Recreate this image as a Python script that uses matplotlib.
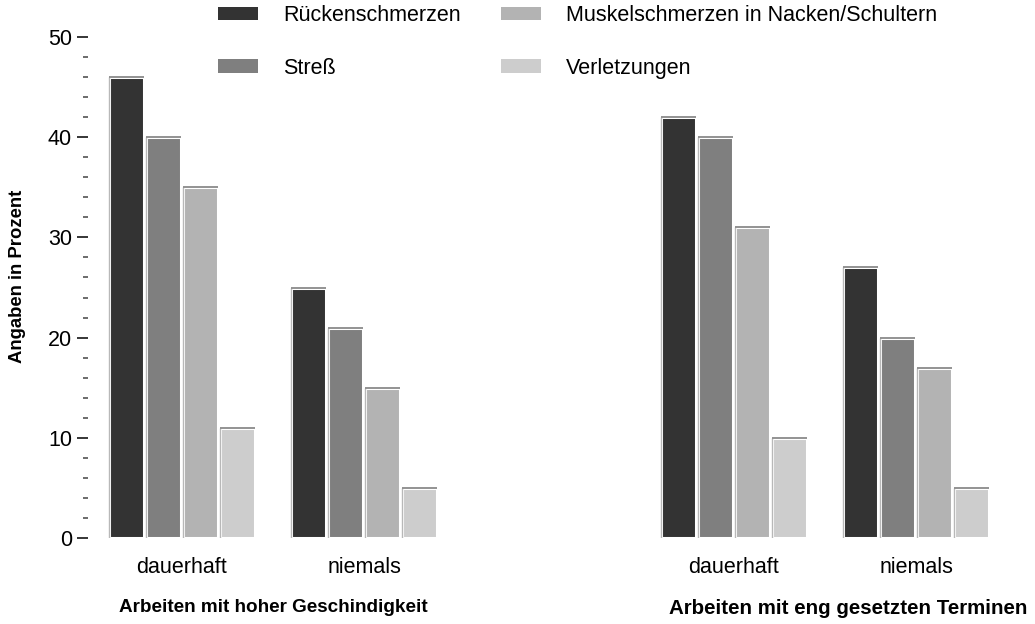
import matplotlib
matplotlib.use("Agg")
import matplotlib.pyplot as plt
import numpy as np
from matplotlib.patches import Patch

plt.rcParams['font.family'] = ['Liberation Sans', 'DejaVu Sans']

groups = ["dauerhaft", "niemals"]
series = ["Rückenschmerzen", "Streß", "Muskelschmerzen in Nacken/Schultern", "Verletzungen"]
colors = ["#333333", "#7f7f7f", "#b3b3b3", "#cdcdcd"]
panel_titles = ["Arbeiten mit hoher Geschindigkeit", "Arbeiten mit eng gesetzten Terminen"]
# values[series] -> [dauerhaft, niemals]
values_speed = [[46, 25], [40, 21], [35, 15], [11, 5]]
values_deadlines = [[42, 27], [40, 20], [31, 17], [10, 5]]
panels = [values_speed, values_deadlines]
yticks_major = [0, 10, 20, 30, 40, 50]

W, H = 1035, 624
fig = plt.figure(figsize=(W / 100, H / 100), dpi=100)

step = 0.2033
bw = 0.192
x = np.arange(len(groups))

ax_lefts = [88, 640]
title_cx = [273, 848]
title_fs = [13.6, 14.8]
for p, vals in enumerate(panels):
    ax = fig.add_axes([ax_lefts[p] / W, 1 - 538 / H, 370 / W, (538 - 37) / H])
    for i, (s, c) in enumerate(zip(series, colors)):
        xs = x + (i - 1.5) * step
        bars = ax.bar(xs, vals[i], width=bw, color=c, edgecolor="white",
                      linewidth=2.2, label=s, zorder=2)
        for r in bars:
            x0 = r.get_x()
            x1 = x0 + r.get_width()
            h = r.get_height()
            ax.plot([x0, x0], [0, h], color="#b8b8b8", lw=1.0, zorder=3,
                    solid_capstyle="butt")
            ax.plot([x0, x1], [h, h], color="#8a8a8a", lw=1.3, zorder=3,
                    solid_capstyle="butt")
    ax.set_xlim(-0.516, 1.516)
    ax.set_ylim(0, 50)
    for sp in ax.spines.values():
        sp.set_visible(False)
    ax.set_xticks(x)
    ax.set_xticklabels(groups, fontsize=15.5)
    ax.tick_params(axis="x", length=0, pad=14)
    if p == 0:
        ax.set_yticks(yticks_major)
        ax.set_yticks(np.arange(0, 51, 2), minor=True)
        ax.tick_params(axis="y", which="major", length=8, width=1.1,
                       labelsize=15.5, pad=3.5)
        ax.tick_params(axis="y", which="minor", length=3.6, width=1.1, color="#444444")
        ax.set_ylabel("Angaben in Prozent", fontsize=13.3, fontweight="bold")
        ax.yaxis.set_label_coords((26 - 88) / 370, 0.523)
    else:
        ax.set_yticks([])
    fig.text(title_cx[p] / W, 1 - 608 / H, panel_titles[p], ha="center", va="center",
             fontsize=title_fs[p], fontweight="bold")

handles = [Patch(facecolor=c, edgecolor="none") for c in colors]
fig.legend(handles, series, loc="upper left", bbox_to_anchor=(218 / W, 1 - 5 / H),
           ncol=2, frameon=False, fontsize=15.5, handlelength=1.86, handleheight=0.6,
           handletextpad=1.16, columnspacing=1.86, labelspacing=1.47, borderpad=0,
           borderaxespad=0)

fig.savefig("out.png", dpi=100)
